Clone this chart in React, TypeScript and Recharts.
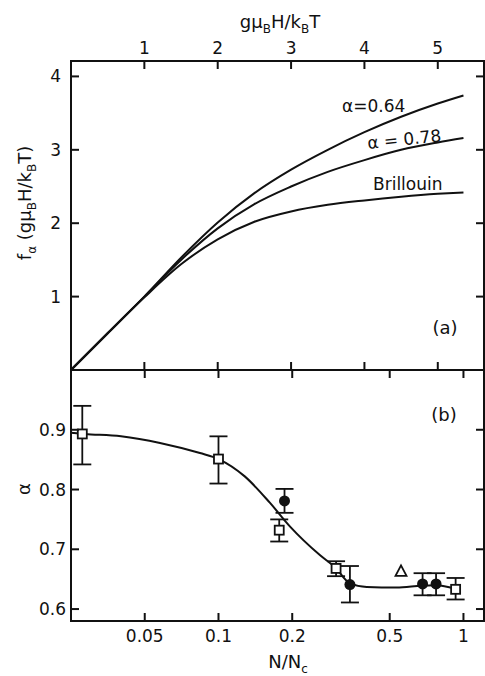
import React from 'react';
import {
  ComposedChart,
  Line,
  Scatter,
  ErrorBar,
  XAxis,
  YAxis,
} from 'recharts';

// panel (a): f_alpha vs g mu_B H / k_B T
const fieldX = [0, 0.5, 1, 1.5, 2, 2.5, 3, 3.5, 4, 4.5, 5, 5.35];
const brillouin = [0, 0.5, 0.99, 1.44, 1.78, 2.02, 2.16, 2.25, 2.31, 2.36, 2.4, 2.42];
const alpha078 = [0, 0.5, 1.0, 1.5, 1.93, 2.26, 2.5, 2.7, 2.86, 3.0, 3.1, 3.16];
const alpha064 = [0, 0.5, 1.0, 1.53, 2.01, 2.41, 2.73, 3.0, 3.24, 3.45, 3.63, 3.74];
const fieldTicks = [1, 2, 3, 4, 5];
const fTicks = [1, 2, 3, 4];
const fieldDomain = [0, 5.63];
const fDomain = [0, 4.21];

// panel (b): alpha vs N/Nc
const fitN = [0.025, 0.0285, 0.04, 0.0577, 0.084, 0.1, 0.128, 0.162, 0.196, 0.26, 0.299, 0.344, 0.403, 0.533, 0.674, 0.778, 0.923];
const fitA = [0.895, 0.893, 0.889, 0.878, 0.861, 0.851, 0.822, 0.778, 0.738, 0.69, 0.67, 0.643, 0.637, 0.636, 0.639, 0.64, 0.634];

const squareN = [0.0278, 0.1, 0.177, 0.302, 0.929];
const squareA = [0.893, 0.851, 0.732, 0.668, 0.633];
const squareLow = [0.051, 0.041, 0.019, 0.013, 0.017];
const squareHigh = [0.047, 0.038, 0.018, 0.012, 0.019];

const circleN = [0.186, 0.344, 0.681, 0.773];
const circleA = [0.781, 0.641, 0.642, 0.642];
const circleLow = [0.02, 0.03, 0.019, 0.019];
const circleHigh = [0.02, 0.031, 0.018, 0.018];

const triangleN = [0.556];
const triangleA = [0.663];

const nTicks = [0.05, 0.1, 0.2, 0.5, 1];
const aTicks = [0.6, 0.7, 0.8, 0.9];
const nDomain = [0.025, 1.213];
const aDomain = [0.58, 1.0];

const FONT = '"DejaVu Sans", sans-serif';
const INK = '#111';

// plot frame in page pixels (both panels share left/right)
const L = 71;
const R = 484;
const TOP_A = 61;
const MID = 370;
const BOT_B = 621;
const TICK = 8;

const brillouinData = fieldX.map((x, i) => ({ x, f: brillouin[i] }));
const a78Data = fieldX.map((x, i) => ({ x, f: alpha078[i] }));
const a64Data = fieldX.map((x, i) => ({ x, f: alpha064[i] }));

const fitData = fitN.map((n, i) => ({ n, a: fitA[i] }));
const squareData = squareN.map((n, i) => ({ n, a: squareA[i], err: [squareLow[i], squareHigh[i]] }));
const circleData = circleN.map((n, i) => ({ n, a: circleA[i], err: [circleLow[i], circleHigh[i]] }));
const triangleData = triangleN.map((n, i) => ({ n, a: triangleA[i] }));

// same mappings as the chart scales, used for the frame tick marks
const fieldPx = (v: number) => L + ((v - fieldDomain[0]) / (fieldDomain[1] - fieldDomain[0])) * (R - L);
const fPx = (v: number) => MID - ((v - fDomain[0]) / (fDomain[1] - fDomain[0])) * (MID - TOP_A);
const nPx = (v: number) =>
  L + ((Math.log10(v) - Math.log10(nDomain[0])) / (Math.log10(nDomain[1]) - Math.log10(nDomain[0]))) * (R - L);
const aPx = (v: number) => BOT_B - ((v - aDomain[0]) / (aDomain[1] - aDomain[0])) * (BOT_B - MID);

// tick label only, the marks are drawn on the frame overlay
const makeLabel = (side: string, offset: number) => (props: any) => {
  const { x, y, payload } = props;
  const left = side === 'left';
  return (
    <text
      x={left ? x - offset : x}
      y={side === 'top' ? y - offset : side === 'bottom' ? y + offset : y}
      textAnchor={left ? 'end' : 'middle'}
      dominantBaseline="central"
      fontFamily={FONT}
      fontSize={17}
      fill={INK}
    >
      {String(payload.value)}
    </text>
  );
};

const axisCommon = {
  type: 'number' as const,
  allowDataOverflow: true,
  interval: 0 as const,
  tickSize: 0,
  tickMargin: 0,
  tickLine: false,
  axisLine: false,
};

const SquareDot = (props: any) => {
  const { cx, cy } = props;
  if (cx == null || cy == null) return null;
  return <rect x={cx - 4.5} y={cy - 4.5} width={9} height={9} fill="#fff" stroke={INK} strokeWidth={1.8} />;
};

const CircleDot = (props: any) => {
  const { cx, cy } = props;
  if (cx == null || cy == null) return null;
  return <circle cx={cx} cy={cy} r={5.5} fill={INK} />;
};

const TriangleDot = (props: any) => {
  const { cx, cy } = props;
  if (cx == null || cy == null) return null;
  return (
    <polygon
      points={`${cx},${cy - 6} ${cx - 5.5},${cy + 4.5} ${cx + 5.5},${cy + 4.5}`}
      fill="#fff"
      stroke={INK}
      strokeWidth={1.8}
    />
  );
};

const Frame: React.FC = () => (
  <g stroke={INK} strokeWidth={2} fill="none">
    <rect x={L} y={TOP_A} width={R - L} height={BOT_B - TOP_A} />
    <line x1={L} y1={MID} x2={R} y2={MID} />
    {fieldTicks.map((t) => (
      <g key={`fa${t}`}>
        <line x1={fieldPx(t)} y1={TOP_A} x2={fieldPx(t)} y2={TOP_A + TICK} />
        <line x1={fieldPx(t)} y1={MID} x2={fieldPx(t)} y2={MID - TICK} />
      </g>
    ))}
    {fTicks.map((t) => (
      <g key={`fy${t}`}>
        <line x1={L} y1={fPx(t)} x2={L + TICK} y2={fPx(t)} />
        <line x1={R} y1={fPx(t)} x2={R - TICK} y2={fPx(t)} />
      </g>
    ))}
    {nTicks.map((t) => (
      <g key={`n${t}`}>
        <line x1={nPx(t)} y1={MID} x2={nPx(t)} y2={MID + TICK} />
        <line x1={nPx(t)} y1={BOT_B} x2={nPx(t)} y2={BOT_B - TICK} />
      </g>
    ))}
    {aTicks.map((t) => (
      <g key={`a${t}`}>
        <line x1={L} y1={aPx(t)} x2={L + TICK} y2={aPx(t)} />
        <line x1={R} y1={aPx(t)} x2={R - TICK} y2={aPx(t)} />
      </g>
    ))}
  </g>
);

const App: React.FC = () => {
  return (
    <div style={{ position: 'absolute', left: 0, top: 0, width: 485, height: 676, background: '#fff' }}>
      <div style={{ position: 'absolute', left: 0, top: 0 }}>
        <ComposedChart width={485} height={MID + 1} margin={{ top: 0, right: 485 - R, bottom: 1, left: 0 }}>
          <XAxis {...axisCommon} xAxisId="top" orientation="top" dataKey="x" domain={fieldDomain} ticks={fieldTicks} height={TOP_A} tick={makeLabel('top', 13)} />
          <YAxis {...axisCommon} yAxisId="left" dataKey="f" domain={fDomain} ticks={fTicks} width={L} tick={makeLabel('left', 10)} />
          <Line xAxisId="top" yAxisId="left" data={brillouinData} type="monotone" dataKey="f" stroke={INK} strokeWidth={2} dot={false} isAnimationActive={false} />
          <Line xAxisId="top" yAxisId="left" data={a78Data} type="monotone" dataKey="f" stroke={INK} strokeWidth={2} dot={false} isAnimationActive={false} />
          <Line xAxisId="top" yAxisId="left" data={a64Data} type="monotone" dataKey="f" stroke={INK} strokeWidth={2} dot={false} isAnimationActive={false} />
        </ComposedChart>
      </div>

      <div style={{ position: 'absolute', left: 0, top: MID }}>
        <ComposedChart width={485} height={676 - MID} margin={{ top: 0, right: 485 - R, bottom: 0, left: 0 }}>
          <XAxis {...axisCommon} xAxisId="bottom" orientation="bottom" scale="log" dataKey="n" domain={nDomain} ticks={nTicks} height={676 - BOT_B} tick={makeLabel('bottom', 15)} />
          <YAxis {...axisCommon} yAxisId="left" dataKey="a" domain={aDomain} ticks={aTicks} width={L} tick={makeLabel('left', 5)} />
          <Line
            xAxisId="bottom"
            yAxisId="left"
            data={fitData}
            type="monotone"
            dataKey="a"
            stroke={INK}
            strokeWidth={2}
            dot={false}
            isAnimationActive={false}
          />
          <Scatter xAxisId="bottom" yAxisId="left" data={squareData} dataKey="a" shape={<SquareDot />} isAnimationActive={false}>
            <ErrorBar dataKey="err" direction="y" width={9} stroke={INK} strokeWidth={1.8} />
          </Scatter>
          <Scatter xAxisId="bottom" yAxisId="left" data={circleData} dataKey="a" shape={<CircleDot />} isAnimationActive={false}>
            <ErrorBar dataKey="err" direction="y" width={9} stroke={INK} strokeWidth={1.8} />
          </Scatter>
          <Scatter xAxisId="bottom" yAxisId="left" data={triangleData} dataKey="a" shape={<TriangleDot />} isAnimationActive={false} />
        </ComposedChart>
      </div>

      <svg width={485} height={676} style={{ position: 'absolute', left: 0, top: 0, pointerEvents: 'none' }}>
        <Frame />
        <g fontFamily={FONT} fill={INK}>
          <text x={280} y={28} fontSize={18} textAnchor="middle">
            gμ<tspan fontSize={12} dy={5}>B</tspan>
            <tspan dy={-5}>H/k</tspan>
            <tspan fontSize={12} dy={5}>B</tspan>
            <tspan dy={-5}>T</tspan>
          </text>
          <text x={0} y={0} fontSize={18} textAnchor="middle" transform="translate(31,203) rotate(-90)">
            f<tspan fontSize={12} dy={5}>α</tspan>
            <tspan dy={-5}> (gμ</tspan>
            <tspan fontSize={12} dy={5}>B</tspan>
            <tspan dy={-5}>H/k</tspan>
            <tspan fontSize={12} dy={5}>B</tspan>
            <tspan dy={-5}>T)</tspan>
          </text>
          <text x={0} y={0} fontSize={18} textAnchor="middle" dominantBaseline="central" transform="translate(23,489) rotate(-90)">
            α
          </text>
          <text x={288} y={668} fontSize={18} textAnchor="middle">
            N/N<tspan fontSize={12} dy={5}>c</tspan>
          </text>
          <text x={445} y={334} fontSize={18} textAnchor="middle">(a)</text>
          <text x={444} y={421} fontSize={18} textAnchor="middle">(b)</text>
          <text x={342} y={112} fontSize={17}>α=0.64</text>
          <text x={368} y={149} fontSize={17} transform="rotate(-6 368 149)">α = 0.78</text>
          <text x={373} y={190} fontSize={17}>Brillouin</text>
        </g>
      </svg>
    </div>
  );
};

export default App;
